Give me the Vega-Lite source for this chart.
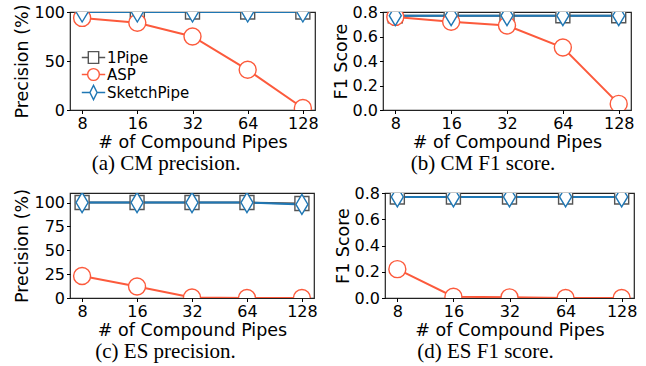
{
  "$schema": "https://vega.github.io/schema/vega-lite/v6.json",
  "background": "white",
  "padding": {"left": 13, "top": 3, "right": 5, "bottom": 0},
  "spacing": 9,
  "config": {
    "view": {"stroke": "#222", "strokeWidth": 1.2},
    "axis": {
      "labelFont": "DejaVu Sans", "labelFontSize": 16, "labelColor": "black",
      "titleFont": "DejaVu Sans", "titleFontSize": 17.5, "titleFontWeight": "normal", "titleColor": "black",
      "tickColor": "black", "tickSize": 3.5, "domain": false, "grid": false, "labelPadding": 2, "titlePadding": 2
    },
    "title": {"font": "Liberation Serif", "fontSize": 21, "fontWeight": "normal", "color": "black", "orient": "bottom", "anchor": "middle", "frame": "bounds", "offset": 2},
    "legend": {"labelFont": "DejaVu Sans", "labelFontSize": 15, "labelColor": "black"}
  },
  "datasets": {
    "all": [
      {"panel": "a", "series": "1Pipe", "pipes": "8", "value": 100},
      {"panel": "a", "series": "1Pipe", "pipes": "16", "value": 100},
      {"panel": "a", "series": "1Pipe", "pipes": "32", "value": 100},
      {"panel": "a", "series": "1Pipe", "pipes": "64", "value": 100},
      {"panel": "a", "series": "1Pipe", "pipes": "128", "value": 100},
      {"panel": "a", "series": "ASP", "pipes": "8", "value": 94},
      {"panel": "a", "series": "ASP", "pipes": "16", "value": 89},
      {"panel": "a", "series": "ASP", "pipes": "32", "value": 75},
      {"panel": "a", "series": "ASP", "pipes": "64", "value": 41},
      {"panel": "a", "series": "ASP", "pipes": "128", "value": 2},
      {"panel": "a", "series": "SketchPipe", "pipes": "8", "value": 100},
      {"panel": "a", "series": "SketchPipe", "pipes": "16", "value": 100},
      {"panel": "a", "series": "SketchPipe", "pipes": "32", "value": 100},
      {"panel": "a", "series": "SketchPipe", "pipes": "64", "value": 100},
      {"panel": "a", "series": "SketchPipe", "pipes": "128", "value": 100},

      {"panel": "b", "series": "1Pipe", "pipes": "8", "value": 0.77},
      {"panel": "b", "series": "1Pipe", "pipes": "16", "value": 0.77},
      {"panel": "b", "series": "1Pipe", "pipes": "32", "value": 0.77},
      {"panel": "b", "series": "1Pipe", "pipes": "64", "value": 0.77},
      {"panel": "b", "series": "1Pipe", "pipes": "128", "value": 0.77},
      {"panel": "b", "series": "ASP", "pipes": "8", "value": 0.76},
      {"panel": "b", "series": "ASP", "pipes": "16", "value": 0.72},
      {"panel": "b", "series": "ASP", "pipes": "32", "value": 0.69},
      {"panel": "b", "series": "ASP", "pipes": "64", "value": 0.51},
      {"panel": "b", "series": "ASP", "pipes": "128", "value": 0.05},
      {"panel": "b", "series": "SketchPipe", "pipes": "8", "value": 0.77},
      {"panel": "b", "series": "SketchPipe", "pipes": "16", "value": 0.77},
      {"panel": "b", "series": "SketchPipe", "pipes": "32", "value": 0.77},
      {"panel": "b", "series": "SketchPipe", "pipes": "64", "value": 0.77},
      {"panel": "b", "series": "SketchPipe", "pipes": "128", "value": 0.77},

      {"panel": "c", "series": "1Pipe", "pipes": "8", "value": 100},
      {"panel": "c", "series": "1Pipe", "pipes": "16", "value": 100},
      {"panel": "c", "series": "1Pipe", "pipes": "32", "value": 100},
      {"panel": "c", "series": "1Pipe", "pipes": "64", "value": 100},
      {"panel": "c", "series": "1Pipe", "pipes": "128", "value": 99},
      {"panel": "c", "series": "ASP", "pipes": "8", "value": 23},
      {"panel": "c", "series": "ASP", "pipes": "16", "value": 12},
      {"panel": "c", "series": "ASP", "pipes": "32", "value": 0.5},
      {"panel": "c", "series": "ASP", "pipes": "64", "value": 0},
      {"panel": "c", "series": "ASP", "pipes": "128", "value": 0},
      {"panel": "c", "series": "SketchPipe", "pipes": "8", "value": 100},
      {"panel": "c", "series": "SketchPipe", "pipes": "16", "value": 100},
      {"panel": "c", "series": "SketchPipe", "pipes": "32", "value": 100},
      {"panel": "c", "series": "SketchPipe", "pipes": "64", "value": 100},
      {"panel": "c", "series": "SketchPipe", "pipes": "128", "value": 98},

      {"panel": "d", "series": "1Pipe", "pipes": "8", "value": 0.77},
      {"panel": "d", "series": "1Pipe", "pipes": "16", "value": 0.77},
      {"panel": "d", "series": "1Pipe", "pipes": "32", "value": 0.77},
      {"panel": "d", "series": "1Pipe", "pipes": "64", "value": 0.77},
      {"panel": "d", "series": "1Pipe", "pipes": "128", "value": 0.77},
      {"panel": "d", "series": "ASP", "pipes": "8", "value": 0.22},
      {"panel": "d", "series": "ASP", "pipes": "16", "value": 0.01},
      {"panel": "d", "series": "ASP", "pipes": "32", "value": 0.005},
      {"panel": "d", "series": "ASP", "pipes": "64", "value": 0},
      {"panel": "d", "series": "ASP", "pipes": "128", "value": 0},
      {"panel": "d", "series": "SketchPipe", "pipes": "8", "value": 0.77},
      {"panel": "d", "series": "SketchPipe", "pipes": "16", "value": 0.77},
      {"panel": "d", "series": "SketchPipe", "pipes": "32", "value": 0.77},
      {"panel": "d", "series": "SketchPipe", "pipes": "64", "value": 0.77},
      {"panel": "d", "series": "SketchPipe", "pipes": "128", "value": 0.77}
    ]
  },
  "vconcat": [
    {
      "spacing": 12,
      "hconcat": [
        {
          "width": 245, "height": 98,
          "title": {"text": "(a) CM precision."},
          "data": {"name": "all"},
          "transform": [{"filter": "datum.panel === 'a'"}],
          "encoding": {
            "x": {"field": "pipes", "type": "ordinal", "sort": ["8", "16", "32", "64", "128"], "scale": {"type": "point", "padding": 0.22}, "axis": {"title": "# of Compound Pipes", "labelAngle": 0}},
            "y": {"field": "value", "type": "quantitative", "scale": {"domain": [0, 100], "nice": false}, "axis": {"title": "Precision (%)", "values": [0, 50, 100]}},
            "color": {"field": "series", "type": "nominal", "scale": {"domain": ["1Pipe", "ASP", "SketchPipe"], "range": ["#555555", "#fc5a3c", "#1f77b4"]},
              "legend": {"title": null, "orient": "none", "legendX": 16, "legendY": 38, "symbolSize": 169, "symbolStrokeWidth": 1.4, "labelOffset": 6, "rowPadding": -2,
                "encode": {"symbols": {"update": {"fill": {"value": "white"}, "shape": {"signal": "datum.value === '1Pipe' ? 'M-1.8,0L-0.8,0M0.8,0L1.8,0M-0.8,-0.9L0.8,-0.9L0.8,0.9L-0.8,0.9Z' : datum.value === 'ASP' ? 'M-1.8,0L-0.9,0M0.9,0L1.8,0M-0.9,0A0.9,0.9 0 1,1 0.9,0A0.9,0.9 0 1,1 -0.9,0Z' : 'M-1.8,0L-0.55,0M0.55,0L1.8,0M0,-1.1L0.55,0L0,1.1L-0.55,0Z'"}}}}}}
          },
          "layer": [
            {"mark": {"type": "line", "strokeWidth": 2, "clip": true}},
            {"mark": {"type": "point", "filled": false, "fill": "white", "fillOpacity": 1, "opacity": 1, "strokeWidth": 1.4, "clip": true},
              "encoding": {
                "shape": {"condition": [{"test": "datum.series === '1Pipe'", "value": "square"}, {"test": "datum.series === 'ASP'", "value": "circle"}], "value": "M0,-1L0.6,0L0,1L-0.6,0Z"},
                "size": {"condition": [{"test": "datum.series === '1Pipe'", "value": 196}, {"test": "datum.series === 'ASP'", "value": 289}], "value": 400}
              }}
          ]
        },
        {
          "width": 248, "height": 98,
          "title": {"text": "(b) CM F1 score."},
          "data": {"name": "all"},
          "transform": [{"filter": "datum.panel === 'b'"}],
          "encoding": {
            "x": {"field": "pipes", "type": "ordinal", "sort": ["8", "16", "32", "64", "128"], "scale": {"type": "point", "padding": 0.22}, "axis": {"title": "# of Compound Pipes", "labelAngle": 0}},
            "y": {"field": "value", "type": "quantitative", "scale": {"domain": [0, 0.8], "nice": false}, "axis": {"title": "F1 Score", "values": [0, 0.2, 0.4, 0.6, 0.8], "format": ".1f"}},
            "color": {"field": "series", "type": "nominal", "scale": {"domain": ["1Pipe", "ASP", "SketchPipe"], "range": ["#555555", "#fc5a3c", "#1f77b4"]}, "legend": null}
          },
          "layer": [
            {"mark": {"type": "line", "strokeWidth": 2, "clip": true}},
            {"mark": {"type": "point", "filled": false, "fill": "white", "fillOpacity": 1, "opacity": 1, "strokeWidth": 1.4, "clip": true},
              "encoding": {
                "shape": {"condition": [{"test": "datum.series === '1Pipe'", "value": "square"}, {"test": "datum.series === 'ASP'", "value": "circle"}], "value": "M0,-1L0.6,0L0,1L-0.6,0Z"},
                "size": {"condition": [{"test": "datum.series === '1Pipe'", "value": 196}, {"test": "datum.series === 'ASP'", "value": 289}], "value": 400}
              }}
          ]
        }
      ]
    },
    {
      "spacing": 15,
      "hconcat": [
        {
          "width": 244, "height": 105,
          "title": {"text": "(c) ES precision."},
          "data": {"name": "all"},
          "transform": [{"filter": "datum.panel === 'c'"}],
          "encoding": {
            "x": {"field": "pipes", "type": "ordinal", "sort": ["8", "16", "32", "64", "128"], "scale": {"type": "point", "padding": 0.22}, "axis": {"title": "# of Compound Pipes", "labelAngle": 0}},
            "y": {"field": "value", "type": "quantitative", "scale": {"domain": [0, 110], "nice": false}, "axis": {"title": "Precision (%)", "values": [0, 25, 50, 75, 100]}},
            "color": {"field": "series", "type": "nominal", "scale": {"domain": ["1Pipe", "ASP", "SketchPipe"], "range": ["#555555", "#fc5a3c", "#1f77b4"]}, "legend": null}
          },
          "layer": [
            {"mark": {"type": "line", "strokeWidth": 2, "clip": true}},
            {"mark": {"type": "point", "filled": false, "fill": "white", "fillOpacity": 1, "opacity": 1, "strokeWidth": 1.4, "clip": true},
              "encoding": {
                "shape": {"condition": [{"test": "datum.series === '1Pipe'", "value": "square"}, {"test": "datum.series === 'ASP'", "value": "circle"}], "value": "M0,-1L0.6,0L0,1L-0.6,0Z"},
                "size": {"condition": [{"test": "datum.series === '1Pipe'", "value": 196}, {"test": "datum.series === 'ASP'", "value": 289}], "value": 400}
              }}
          ]
        },
        {
          "width": 249, "height": 105,
          "title": {"text": "(d) ES F1 score."},
          "data": {"name": "all"},
          "transform": [{"filter": "datum.panel === 'd'"}],
          "encoding": {
            "x": {"field": "pipes", "type": "ordinal", "sort": ["8", "16", "32", "64", "128"], "scale": {"type": "point", "padding": 0.22}, "axis": {"title": "# of Compound Pipes", "labelAngle": 0}},
            "y": {"field": "value", "type": "quantitative", "scale": {"domain": [0, 0.8], "nice": false}, "axis": {"title": "F1 Score", "values": [0, 0.2, 0.4, 0.6, 0.8], "format": ".1f"}},
            "color": {"field": "series", "type": "nominal", "scale": {"domain": ["1Pipe", "ASP", "SketchPipe"], "range": ["#555555", "#fc5a3c", "#1f77b4"]}, "legend": null}
          },
          "layer": [
            {"mark": {"type": "line", "strokeWidth": 2, "clip": true}},
            {"mark": {"type": "point", "filled": false, "fill": "white", "fillOpacity": 1, "opacity": 1, "strokeWidth": 1.4, "clip": true},
              "encoding": {
                "shape": {"condition": [{"test": "datum.series === '1Pipe'", "value": "square"}, {"test": "datum.series === 'ASP'", "value": "circle"}], "value": "M0,-1L0.6,0L0,1L-0.6,0Z"},
                "size": {"condition": [{"test": "datum.series === '1Pipe'", "value": 196}, {"test": "datum.series === 'ASP'", "value": 289}], "value": 400}
              }}
          ]
        }
      ]
    }
  ]
}
